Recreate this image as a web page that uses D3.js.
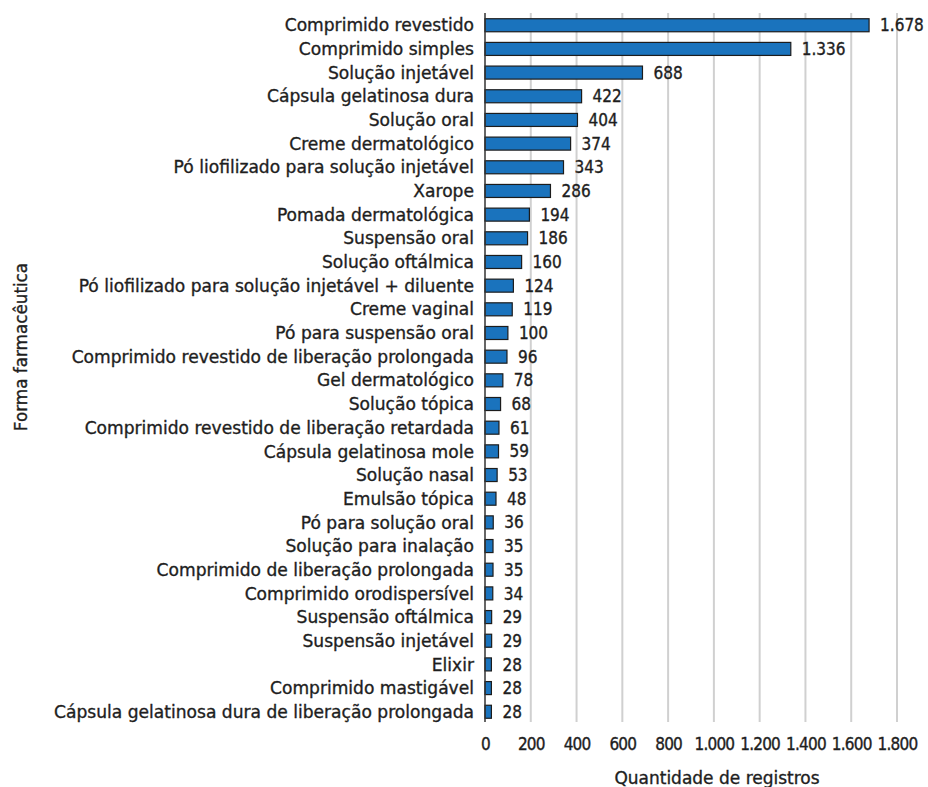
<!DOCTYPE html>
<html><head><meta charset="utf-8">
<script src="https://cdn.jsdelivr.net/npm/d3@7"></script>
<style>body{margin:0;background:#fff}</style>
</head><body>
<svg id="c" width="928" height="787"></svg>
<script>
const categories = ["Comprimido revestido","Comprimido simples","Solução injetável","Cápsula gelatinosa dura","Solução oral","Creme dermatológico","Pó liofilizado para solução injetável","Xarope","Pomada dermatológica","Suspensão oral","Solução oftálmica","Pó liofilizado para solução injetável + diluente","Creme vaginal","Pó para suspensão oral","Comprimido revestido de liberação prolongada","Gel dermatológico","Solução tópica","Comprimido revestido de liberação retardada","Cápsula gelatinosa mole","Solução nasal","Emulsão tópica","Pó para solução oral","Solução para inalação","Comprimido de liberação prolongada","Comprimido orodispersível","Suspensão oftálmica","Suspensão injetável","Elixir","Comprimido mastigável","Cápsula gelatinosa dura de liberação prolongada"];
const values = [1678,1336,688,422,404,374,343,286,194,186,160,124,119,100,96,78,68,61,59,53,48,36,35,35,34,29,29,28,28,28];
const xTicks = [0,200,400,600,800,1000,1200,1400,1600,1800];
const xTitle = "Quantidade de registros";
const yTitle = "Forma farmacêutica";

const fmt = d3.formatLocale({decimal:",",thousands:".",grouping:[3],currency:["R$",""]}).format(",d");
const svg = d3.select("#c");
const font = "'DejaVu Sans', sans-serif";
const fontC = "'DejaVu Sans Condensed', 'DejaVu Sans', sans-serif";
const ink = "#1e1e1e";
const x = d3.scaleLinear().domain([0,1800]).range([485,897]);
const y = d3.scaleBand().domain(categories).range([14,723]).paddingInner(0.45).paddingOuter(0.2);

function heavy(sel){ return sel.attr("stroke",ink).attr("stroke-width",0.35).attr("paint-order","stroke"); }

// gridlines
svg.append("g").selectAll("line").data(xTicks.slice(1)).join("line")
  .attr("x1",d=>x(d)).attr("x2",d=>x(d)).attr("y1",13).attr("y2",722)
  .attr("stroke","#d0d0d0").attr("stroke-width",2);

// bars
svg.append("g").selectAll("rect").data(values).join("rect")
  .attr("x",x(0)).attr("y",(d,i)=>y(categories[i]))
  .attr("width",d=>x(d)-x(0)).attr("height",y.bandwidth())
  .attr("fill","#1a73bd").attr("stroke","#1c1c1c").attr("stroke-width",1.2);

// axis line
svg.append("line").attr("x1",x(0)).attr("x2",x(0)).attr("y1",13).attr("y2",722)
  .attr("stroke","#333").attr("stroke-width",1.5);

// x axis
const xa = svg.append("g").attr("transform","translate(0,738)")
  .call(d3.axisBottom(x).tickValues(xTicks).tickFormat(fmt).tickSize(0).tickPadding(0));
xa.select(".domain").remove();
heavy(xa.selectAll("text").attr("font-family",fontC).attr("font-size",17).attr("letter-spacing","-0.8px")
  .attr("fill",ink).attr("dy","0.71em"));

// category labels
heavy(svg.append("g").selectAll("text").data(categories).join("text")
  .attr("x",474).attr("y",d=>y(d)+y.bandwidth()/2).attr("dy","0.36em")
  .attr("text-anchor","end").attr("font-family",font).attr("font-size",17.1).attr("fill",ink)
  .text(d=>d));

// value labels
heavy(svg.append("g").selectAll("text").data(values).join("text")
  .attr("x",d=>x(d)+11).attr("y",(d,i)=>y(categories[i])+y.bandwidth()/2).attr("dy","0.36em")
  .attr("font-family",fontC).attr("font-size",17).attr("fill",ink)
  .text(d=>fmt(d)));

heavy(svg.append("text").attr("x",717).attr("y",784).attr("text-anchor","middle")
  .attr("font-family",font).attr("font-size",17).attr("fill",ink).text(xTitle));
heavy(svg.append("text").attr("transform","translate(27,347) rotate(-90)").attr("text-anchor","middle")
  .attr("font-family",font).attr("font-size",16.8).attr("fill",ink).text(yTitle));
</script>
</body></html>
